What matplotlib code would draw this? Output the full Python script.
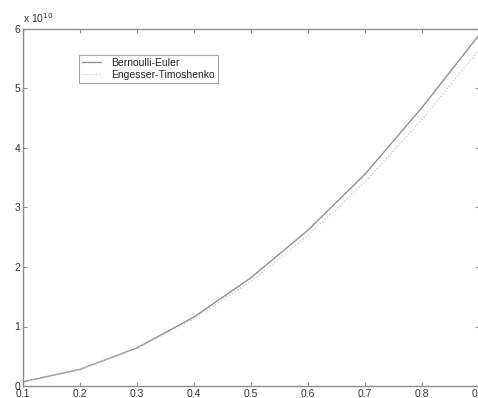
import matplotlib
matplotlib.use('Agg')
import matplotlib.pyplot as plt

# longitud (x) y carga critica en unidades de 1e10
longitud = [0.1, 0.2, 0.3, 0.4, 0.5, 0.6, 0.7, 0.8, 0.9]
bernoulli_euler = [0.07, 0.28, 0.64, 1.16, 1.82, 2.62, 3.56, 4.68, 5.9]
engesser_timoshenko = [0.07, 0.28, 0.63, 1.13, 1.76, 2.53, 3.43, 4.48, 5.65]
xticks = [0.1, 0.2, 0.3, 0.4, 0.5, 0.6, 0.7, 0.8, 0.9]
yticks = [0, 1, 2, 3, 4, 5, 6]

plt.rcParams['font.family'] = ['Liberation Sans', 'DejaVu Sans']

fig = plt.figure(figsize=(4.78, 3.98), dpi=100)
ax = fig.add_axes([23 / 478, 12 / 398, 456 / 478, 357 / 398])

ax.plot(longitud, bernoulli_euler, color='#909090', lw=1.0, ls='-', label='Bernoulli-Euler')
ax.plot(longitud, engesser_timoshenko, color='#c4c4c4', lw=0.9, ls=':', label='Engesser-Timoshenko')

ax.set_xlim(0.1, 0.9)
ax.set_ylim(0, 6)
ax.set_xticks(xticks)
ax.set_yticks(yticks)
ax.set_xticklabels([f'{v:g}' for v in xticks])
ax.set_yticklabels([str(v) for v in yticks])

for s in ax.spines.values():
    s.set_color('#8c8c8c')
    s.set_linewidth(1.0)
ax.tick_params(direction='in', length=3, width=0.8, color='#8c8c8c',
               top=True, right=True, labelsize=7.5, labelcolor='#333333', pad=2)

ax.text(0.0, 1.012, r'x 10$^{10}$', transform=ax.transAxes, fontsize=7.5,
        color='#333333', ha='left', va='bottom')

leg = ax.legend(loc='upper left', bbox_to_anchor=(56 / 456, 1 - 26 / 357),
                fontsize=7.5, frameon=True, fancybox=False, borderaxespad=0,
                handlelength=1.8, handletextpad=1.0, borderpad=0.3, labelspacing=0.15)
leg.get_frame().set_edgecolor('#8c8c8c')
leg.get_frame().set_linewidth(0.8)
for t in leg.get_texts():
    t.set_color('#222222')

fig.savefig('out.png', dpi=100)
